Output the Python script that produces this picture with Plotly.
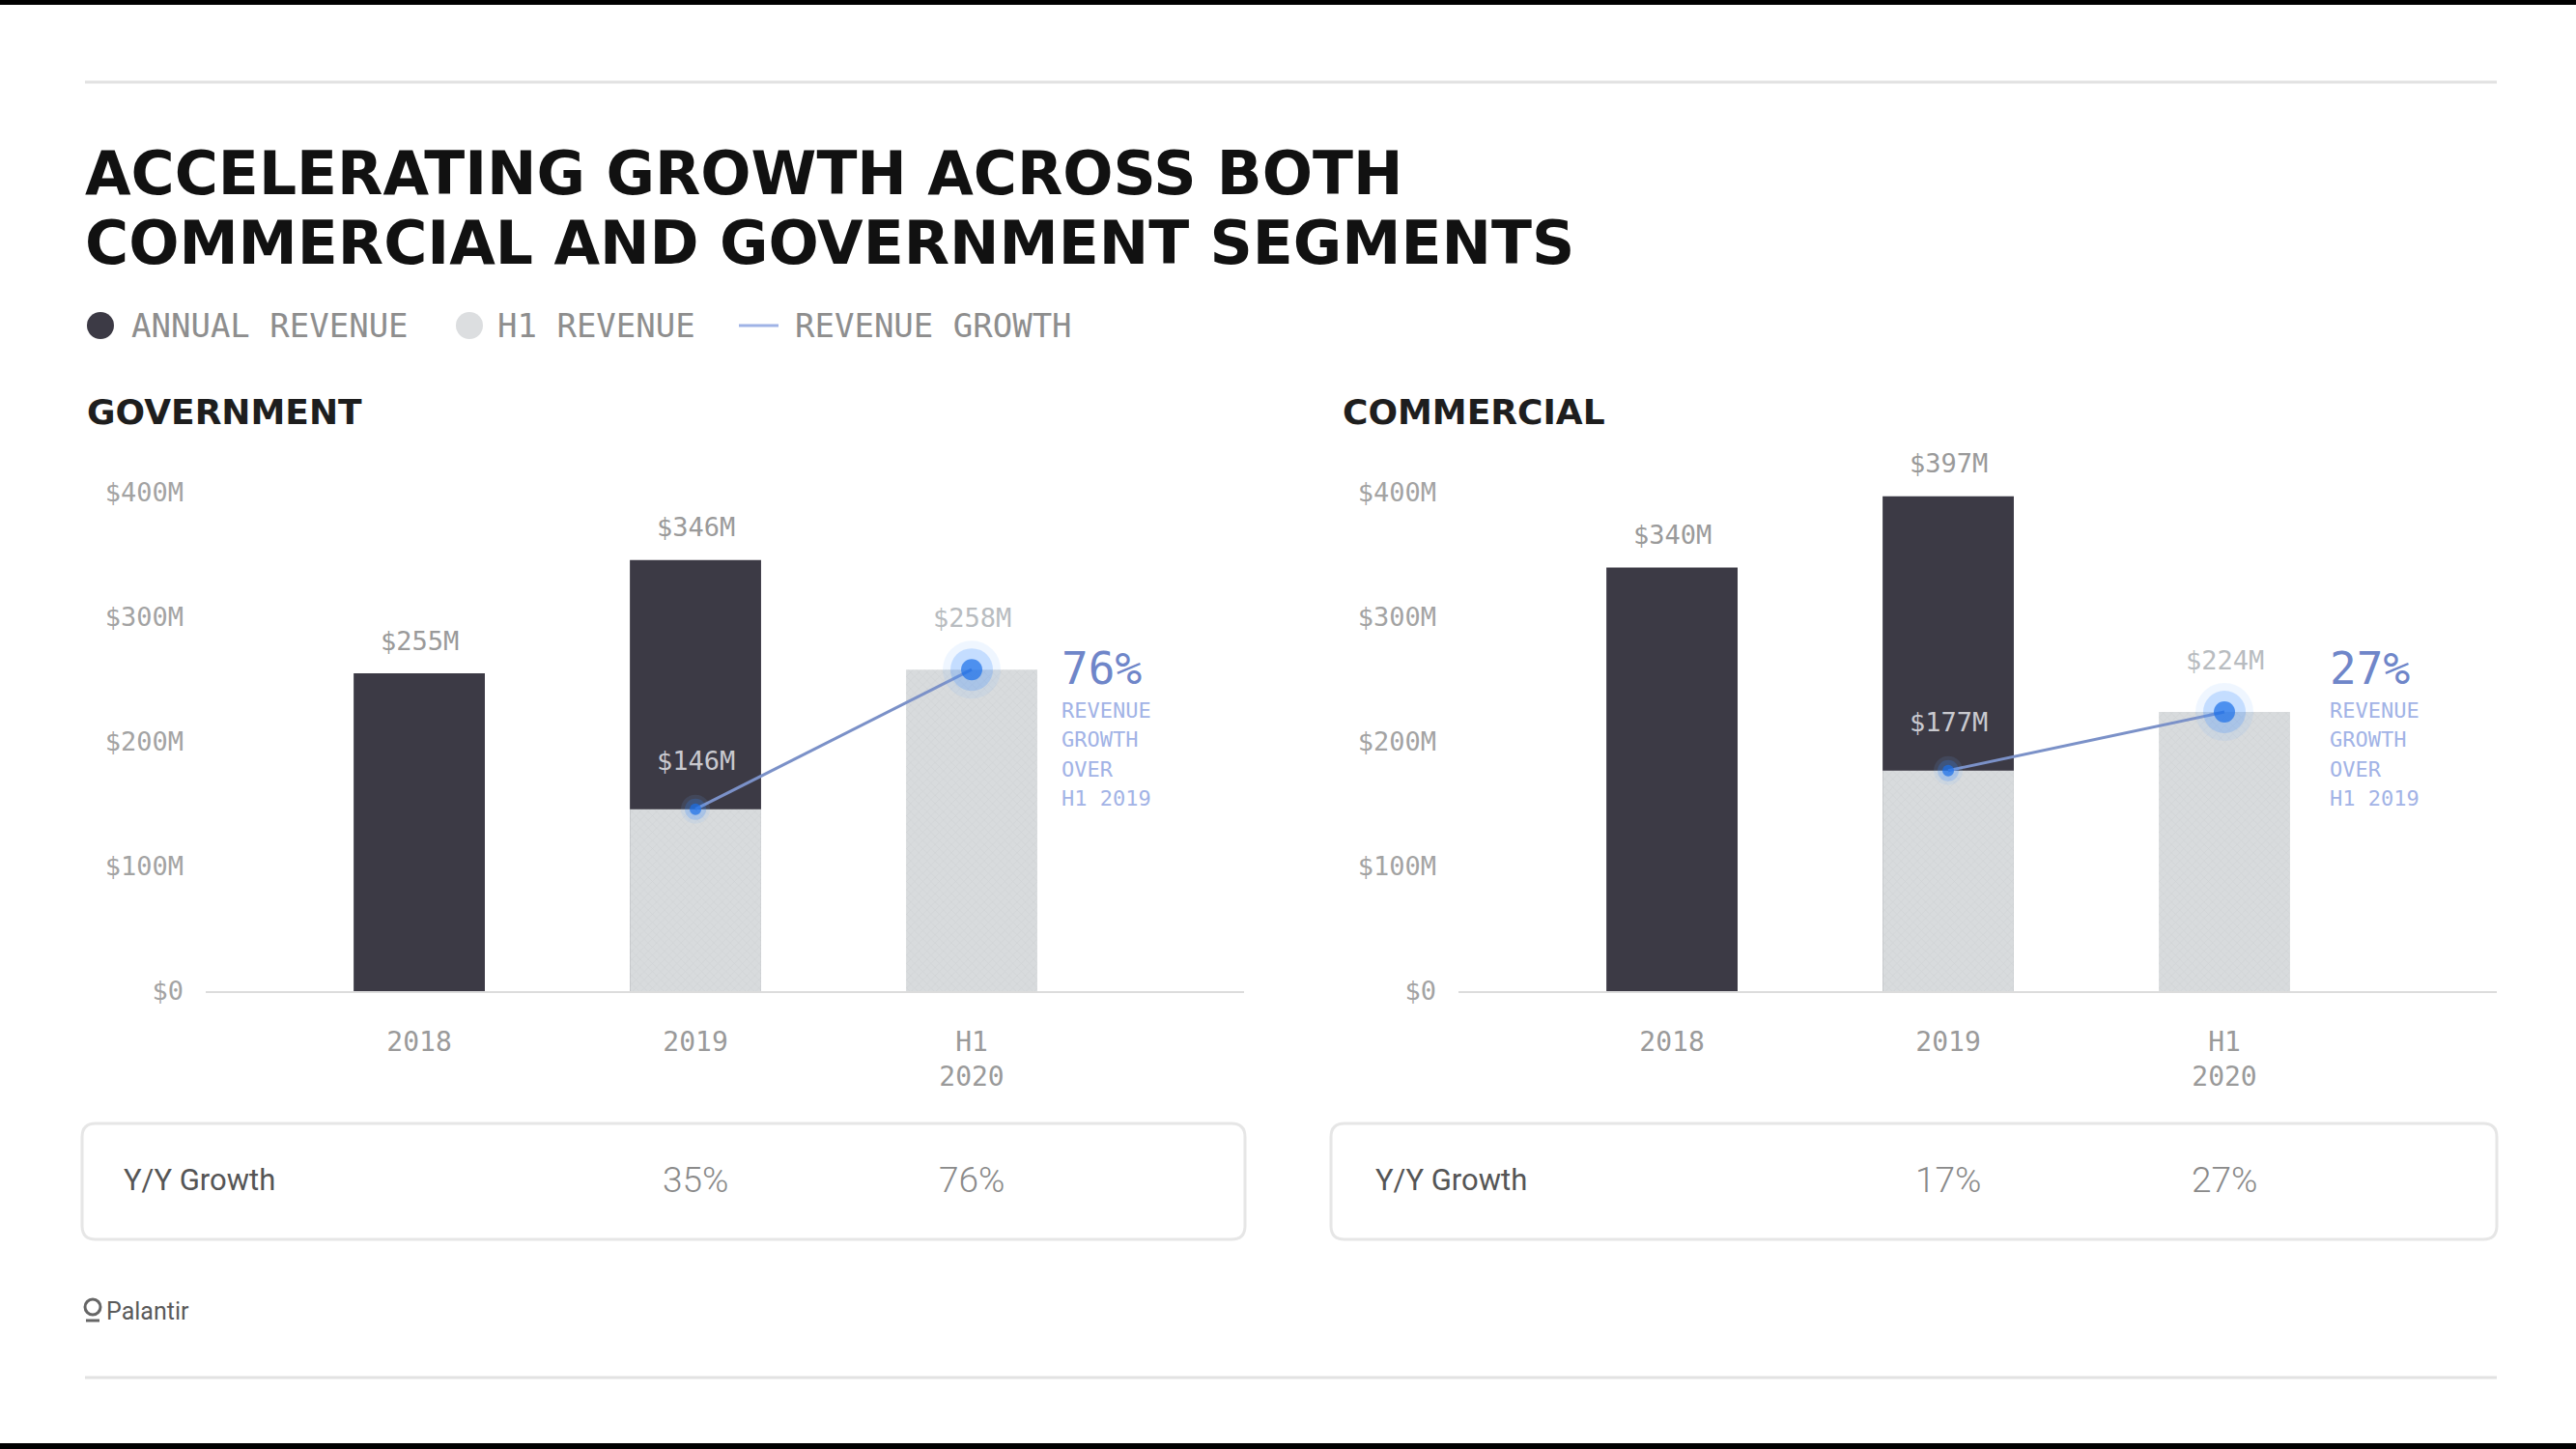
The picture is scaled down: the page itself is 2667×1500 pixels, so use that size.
import plotly.graph_objects as go

W, H = 2667, 1500

# ---------------- data ----------------
categories = ["2018", "2019", "H1<br>2020"]
gov_annual = [255, 346, None]
gov_h1 = [None, 146, 258]
com_annual = [340, 397, None]
com_h1 = [None, 177, 224]
gov_yoy = [None, "35%", "76%"]
com_yoy = [None, "17%", "27%"]
gov_h1_growth = "76%"
com_h1_growth = "27%"
callout_lines = ["REVENUE", "GROWTH", "OVER", "H1 2019"]
y_tickvals = [0, 100, 200, 300, 400]
y_ticktext = ["$0", "$100M", "$200M", "$300M", "$400M"]
legend_labels = ["ANNUAL REVENUE", "H1 REVENUE", "REVENUE GROWTH"]
title_lines = ["ACCELERATING GROWTH ACROSS BOTH", "COMMERCIAL AND GOVERNMENT SEGMENTS"]
panel_titles = ["GOVERNMENT", "COMMERCIAL"]

# ---------------- style ----------------
DARK = "#3c3a45"
LIGHT = "#d8dbdd"
GREY = "#9a9a9a"
MONO = "DejaVu Sans Mono"
SANS = "Roboto"
BLUE_LINE = "#7b91c8"
BLUE_DOT = "#1b6fe8"
BLUE_TXT = "#6f86c9"
BLUE_TXT2 = "#a2b3e6"


def px(x):
    return x / W


def py(y):
    return 1 - y / H


Y0_PX, YTOP_PX = 1026, 450
PX_PER_M = 1.29
Y_MAX = (Y0_PX - YTOP_PX) / PX_PER_M

panels = [
    dict(ax="x", ay="y", annual=gov_annual, h1=gov_h1, yoy=gov_yoy,
         growth=gov_h1_growth, title=panel_titles[0], title_x=88, callout_x=1097,
         box=(85, 1289), yoy_label_x=126),
    dict(ax="x2", ay="y2", annual=com_annual, h1=com_h1, yoy=com_yoy,
         growth=com_h1_growth, title=panel_titles[1], title_x=1388, callout_x=2410,
         box=(1378, 2585), yoy_label_x=1422),
]

fig = go.Figure()
annotations = []
shapes = []

for p in panels:
    ax, ay = p["ax"], p["ay"]
    fig.add_trace(go.Bar(x=categories, y=p["annual"], width=0.475, xaxis=ax, yaxis=ay,
                         marker=dict(color=DARK, line=dict(width=0)), name=legend_labels[0],
                         showlegend=False, hoverinfo="skip"))
    fig.add_trace(go.Bar(x=categories, y=p["h1"], width=0.475, xaxis=ax, yaxis=ay,
                         marker=dict(color=LIGHT, line=dict(width=0),
                                     pattern=dict(shape="x", fgcolor="#c6c9cc", fgopacity=0.7,
                                                  size=6, solidity=0.15, fillmode="overlay")),
                         name=legend_labels[1], showlegend=False, hoverinfo="skip"))
    lx = [c for c, v in zip(categories, p["h1"]) if v is not None]
    ly = [v for v in p["h1"] if v is not None]
    fig.add_trace(go.Scatter(x=lx, y=ly, mode="lines", xaxis=ax, yaxis=ay,
                             line=dict(color=BLUE_LINE, width=3), name=legend_labels[2],
                             showlegend=False, hoverinfo="skip", cliponaxis=False))
    for sizes, col in [([30, 60], "rgba(110,175,255,0.16)"),
                       ([22, 44], "rgba(50,135,255,0.32)"),
                       ([12, 22], BLUE_DOT)]:
        fig.add_trace(go.Scatter(x=lx, y=ly, mode="markers", xaxis=ax, yaxis=ay,
                                 marker=dict(size=sizes, color=col, line=dict(width=0)),
                                 showlegend=False, hoverinfo="skip", cliponaxis=False))

    # value labels (category index used for x so numeric-looking labels stay categories)
    for i, v in enumerate(p["annual"]):
        if v is not None:
            annotations.append(dict(x=i, y=v, xref=ax, yref=ay, text=f"${v}M", showarrow=False,
                                    yanchor="middle", yshift=34,
                                    font=dict(family=MONO, size=27, color=GREY)))
    for i, v in enumerate(p["h1"]):
        if v is None:
            continue
        if p["annual"][i] is not None:
            annotations.append(dict(x=i, y=v, xref=ax, yref=ay, text=f"${v}M", showarrow=False,
                                    yanchor="middle", yshift=50,
                                    font=dict(family=MONO, size=27, color="#c9c9cf")))
        else:
            annotations.append(dict(x=i, y=v, xref=ax, yref=ay, text=f"${v}M", showarrow=False,
                                    yanchor="middle", yshift=54,
                                    font=dict(family=MONO, size=27, color="#b8bcc0")))

    # growth callout
    annotations.append(dict(x=px(p["callout_x"]), y=py(692), xref="paper", yref="paper",
                            text=p["growth"], showarrow=False, xanchor="left", yanchor="middle",
                            font=dict(family=MONO, size=46, color=BLUE_TXT)))
    for k, t in enumerate(callout_lines):
        annotations.append(dict(x=px(p["callout_x"]), y=py(735 + 30.6 * k), xref="paper", yref="paper",
                                text=t, showarrow=False, xanchor="left", yanchor="middle",
                                font=dict(family=MONO, size=22, color=BLUE_TXT2)))

    # panel title
    annotations.append(dict(x=px(p["title_x"]), y=py(427), xref="paper", yref="paper",
                            text=f"<b>{p['title']}</b>", showarrow=False, xanchor="left",
                            yanchor="middle", font=dict(family="DejaVu Sans", size=36, color="#1e1e1e")))

    # Y/Y growth box
    x0, x1 = p["box"]
    y0, y1 = 1163, 1283
    r = 14
    X0, X1, XR0, XR1 = px(x0), px(x1), px(x0 + r), px(x1 - r)
    Y0, Y1, YR0, YR1 = py(y0), py(y1), py(y0 + r), py(y1 - r)
    path = (f"M {XR0},{Y0} L {XR1},{Y0} Q {X1},{Y0} {X1},{YR0} L {X1},{YR1} "
            f"Q {X1},{Y1} {XR1},{Y1} L {XR0},{Y1} Q {X0},{Y1} {X0},{YR1} L {X0},{YR0} "
            f"Q {X0},{Y0} {XR0},{Y0} Z")
    shapes.append(dict(type="path", path=path, xref="paper", yref="paper",
                       line=dict(color="#e6e6e6", width=3), fillcolor="rgba(0,0,0,0)"))
    annotations.append(dict(x=px(p["yoy_label_x"]), y=py(1221), xref="paper", yref="paper",
                            text="Y/Y Growth", showarrow=False, xanchor="left", yanchor="middle",
                            font=dict(family=SANS, size=31, color="#555555")))
    for i, v in enumerate(p["yoy"]):
        if v is not None:
            annotations.append(dict(x=i, y=py(1221), xref=ax, yref="paper", text=v,
                                    showarrow=False, xanchor="center", yanchor="middle",
                                    font=dict(family=SANS, size=37, color="#8a8a8a", weight=300)))

# main title
for k, t in enumerate(title_lines):
    annotations.append(dict(x=px(86), y=py(180 + 72 * k), xref="paper", yref="paper",
                            text=f"<b>{t}</b>", showarrow=False, xanchor="left", yanchor="middle",
                            font=dict(family="DejaVu Sans", size=61.5, color="#111111")))

# custom legend
LEG_Y = 337
shapes.append(dict(type="circle", xref="paper", yref="paper", x0=px(90), x1=px(118),
                   y0=py(LEG_Y + 14), y1=py(LEG_Y - 14), fillcolor=DARK, line=dict(width=0)))
shapes.append(dict(type="circle", xref="paper", yref="paper", x0=px(472), x1=px(500),
                   y0=py(LEG_Y + 14), y1=py(LEG_Y - 14), fillcolor="#dcdee0", line=dict(width=0)))
shapes.append(dict(type="line", xref="paper", yref="paper", x0=px(765), x1=px(806),
                   y0=py(LEG_Y), y1=py(LEG_Y), line=dict(color="#9fb3e6", width=3)))
for t, x in zip(legend_labels, [134, 513, 821]):
    annotations.append(dict(x=px(x), y=py(LEG_Y), xref="paper", yref="paper", text=t,
                            showarrow=False, xanchor="left", yanchor="middle",
                            font=dict(family=MONO, size=34, color="#8e8e8e")))

# rules and frame bars
shapes.append(dict(type="line", xref="paper", yref="paper", x0=px(88), x1=px(2585),
                   y0=py(85), y1=py(85), line=dict(color="#e2e2e2", width=3)))
shapes.append(dict(type="line", xref="paper", yref="paper", x0=px(88), x1=px(2585),
                   y0=py(1426), y1=py(1426), line=dict(color="#e2e2e2", width=3)))
shapes.append(dict(type="rect", xref="paper", yref="paper", x0=0, x1=1, y0=py(5), y1=1,
                   fillcolor="#000000", line=dict(width=0)))
shapes.append(dict(type="rect", xref="paper", yref="paper", x0=0, x1=1, y0=0, y1=py(1494),
                   fillcolor="#000000", line=dict(width=0)))

# Palantir logo
shapes.append(dict(type="circle", xref="paper", yref="paper", x0=px(88), x1=px(104),
                   y0=py(1361), y1=py(1345), line=dict(color="#666666", width=3)))
shapes.append(dict(type="line", xref="paper", yref="paper", x0=px(89), x1=px(103),
                   y0=py(1367), y1=py(1367), line=dict(color="#666666", width=3)))
annotations.append(dict(x=px(108), y=py(1357), xref="paper", yref="paper", text="Palantir",
                        showarrow=False, xanchor="left", yanchor="middle",
                        font=dict(family=SANS, size=25, color="#5a5a5a")))

axis_common_x = dict(type="category", categoryorder="array", categoryarray=categories,
                     range=[-0.773, 2.986], showgrid=False, zeroline=False, showline=True,
                     linecolor="#dcdcdc", linewidth=2, ticks="", ticklabelstandoff=26,
                     automargin=False,
                     tickfont=dict(family=MONO, size=28, color="#9a9a9a"), fixedrange=True)
axis_common_y = dict(range=[0, Y_MAX], domain=[py(Y0_PX), py(YTOP_PX)], showgrid=False,
                     zeroline=False, showline=False, tickvals=y_tickvals, ticktext=y_ticktext,
                     ticks="", ticklabelstandoff=22, automargin=False,
                     tickfont=dict(family=MONO, size=27, color="#a3a3a3"), fixedrange=True)

fig.update_layout(
    width=W, height=H, margin=dict(l=0, r=0, t=0, b=0, pad=0, autoexpand=False),
    paper_bgcolor="white", plot_bgcolor="white",
    barmode="overlay", showlegend=False,
    xaxis=dict(domain=[px(213), px(1288)], anchor="y", **axis_common_x),
    yaxis=dict(anchor="x", **axis_common_y),
    xaxis2=dict(domain=[px(1510), px(2585)], anchor="y2", **axis_common_x),
    yaxis2=dict(anchor="x2", **axis_common_y),
    annotations=annotations, shapes=shapes,
)

fig.write_html("out.html", config={"displayModeBar": False},
               post_script="document.body.style.margin='0px';document.body.style.overflow='hidden';")
